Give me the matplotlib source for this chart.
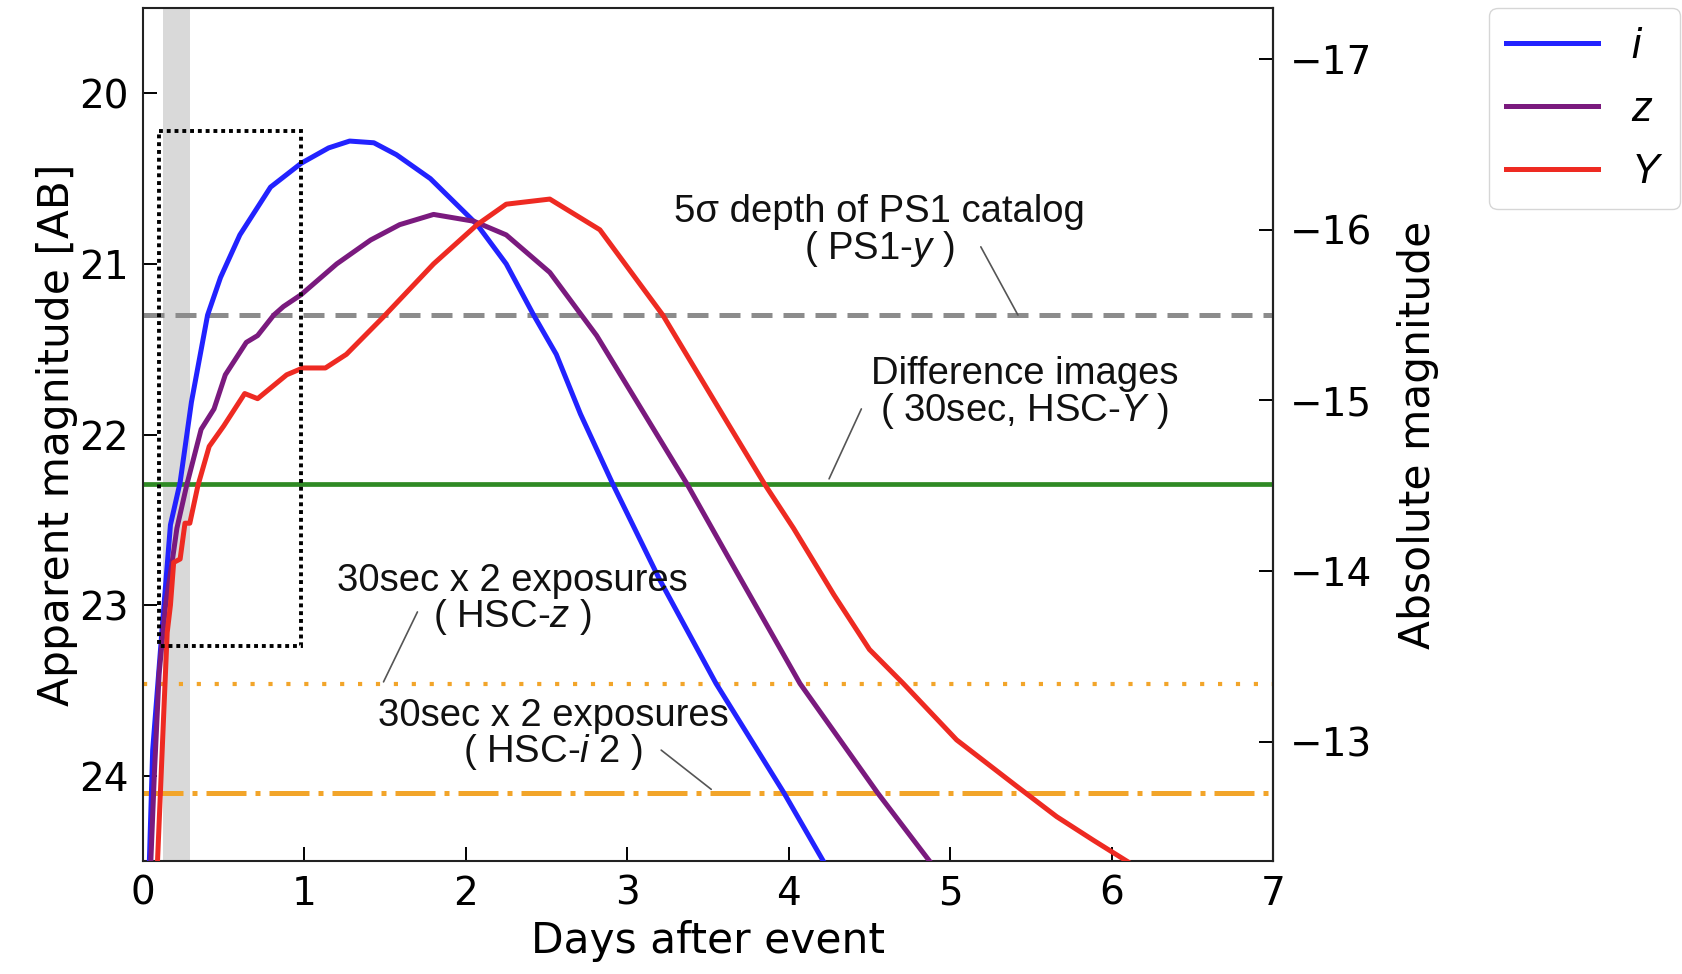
import matplotlib as mpl
import matplotlib.pyplot as plt
from matplotlib.patches import Rectangle

mpl.use("Agg")

# * -------------------------------------------------------------------------------- * #
# * DATA

# light curves, days after event vs apparent magnitude (AB)
i_days = [0.03, 0.06, 0.125, 0.17, 0.23, 0.30, 0.40, 0.48, 0.60, 0.79, 0.98, 1.15,
          1.28, 1.43, 1.57, 1.78, 2.07, 2.25, 2.42, 2.56, 2.71, 2.91, 3.20, 3.55,
          3.97, 4.22, 4.30]
i_mag = [24.8, 23.85, 23.06, 22.53, 22.28, 21.81, 21.30, 21.08, 20.83, 20.55, 20.41,
         20.32, 20.28, 20.29, 20.36, 20.50, 20.77, 21.00, 21.30, 21.53, 21.88, 22.29,
         22.85, 23.46, 24.10, 24.51, 24.64]

z_days = [0.04, 0.07, 0.10, 0.14, 0.18, 0.21, 0.27, 0.36, 0.44, 0.51, 0.64, 0.71,
          0.81, 0.87, 0.98, 1.20, 1.41, 1.59, 1.80, 2.05, 2.25, 2.52, 2.81, 3.37,
          3.62, 4.07, 4.55, 4.88, 4.95]
z_mag = [24.7, 24.0, 23.4, 23.0, 22.75, 22.55, 22.30, 21.97, 21.85, 21.65, 21.46,
         21.42, 21.30, 21.25, 21.18, 21.00, 20.86, 20.77, 20.71, 20.75, 20.83, 21.05,
         21.42, 22.29, 22.71, 23.46, 24.10, 24.51, 24.62]

y_days = [0.07, 0.09, 0.13, 0.15, 0.17, 0.19, 0.23, 0.26, 0.29, 0.34, 0.41, 0.50,
          0.63, 0.71, 0.89, 0.99, 1.13, 1.26, 1.49, 1.80, 2.07, 2.25, 2.52, 2.83,
          3.22, 3.62, 3.85, 4.03, 4.28, 4.50, 4.71, 5.04, 5.41, 5.66, 5.89, 6.11,
          6.20]
y_mag = [25.0, 24.5, 23.6, 23.16, 23.0, 22.75, 22.73, 22.52, 22.52, 22.30, 22.07,
         21.95, 21.76, 21.79, 21.65, 21.61, 21.61, 21.53, 21.31, 21.00, 20.77, 20.65,
         20.62, 20.80, 21.30, 21.93, 22.29, 22.55, 22.94, 23.26, 23.46, 23.79, 24.06,
         24.24, 24.38, 24.51, 24.57]

# detection limits
ps1_depth = 21.3
diff_depth = 22.29
hsc_z_depth = 23.46
hsc_i2_depth = 24.10

distance_modulus = 36.8

# early window
shade_days = (0.125, 0.29)
box_days = (0.10, 0.98)
box_mag = (20.22, 23.24)

# * -------------------------------------------------------------------------------- * #
# * STYLE

plt.rcParams["font.family"] = ["DejaVu Sans"]
plt.rcParams["mathtext.fontset"] = "custom"
plt.rcParams["mathtext.it"] = "Liberation Sans:italic"
plt.rcParams["mathtext.rm"] = "Liberation Sans"

note_font = dict(family="Liberation Sans", fontsize=27.5, ha="center", va="center",
                 linespacing=0.95, color="#111111")
line_props = dict(arrowstyle="-", color="#555555", lw=1.2, shrinkA=0, shrinkB=0)

orange = "#f2a52a"

# * -------------------------------------------------------------------------------- * #
# * PLOT

fig = plt.figure(figsize=(16.82, 9.74), dpi=100)
ax = fig.add_axes([143 / 1682, 1 - 861 / 974, (1273 - 143) / 1682, (861 - 8) / 974])

ax.axvspan(*shade_days, color="#d9d9d9", lw=0, zorder=0)
ax.add_patch(
    Rectangle(
        (box_days[0], box_mag[0]),
        box_days[1] - box_days[0],
        box_mag[1] - box_mag[0],
        fill=False,
        ec="black",
        lw=2.8,
        ls=(0, (1, 1)),
        zorder=5,
    )
)

ax.axhline(ps1_depth, color="#8c8c8c", lw=3.6, ls=(0, (4.2, 2.2)), zorder=1)
ax.axhline(diff_depth, color="#2f8a24", lw=3.4, zorder=1)
ax.axhline(hsc_z_depth, color=orange, lw=3.0, ls=(0, (1, 3.3)), zorder=1)
ax.axhline(hsc_i2_depth, color=orange, lw=3.6, ls=(0, (8, 1.8, 1, 1.8)), zorder=1)

ax.plot(i_days, i_mag, color="#2222ff", lw=3.6, label="$i$", zorder=3)
ax.plot(z_days, z_mag, color="#7a1a7e", lw=3.6, label="$z$", zorder=3)
ax.plot(y_days, y_mag, color="#ee2a22", lw=3.6, label="$Y$", zorder=3)

# Annotations
ax.text(4.56, 20.81, "5σ depth of PS1 catalog\n( PS1-$y$ )", **note_font)
ax.annotate("", xy=(5.42, 21.30), xytext=(5.19, 20.90), arrowprops=line_props)

ax.text(5.46, 21.76, "Difference images\n( 30sec, HSC-$Y$ )", **note_font)
ax.annotate("", xy=(4.25, 22.26), xytext=(4.45, 21.85), arrowprops=line_props)

ax.text(2.29, 22.97, "30sec x 2 exposures\n( HSC-$z$ )", **note_font)
ax.annotate("", xy=(1.49, 23.45), xytext=(1.70, 23.04), arrowprops=line_props)

ax.text(2.54, 23.76, "30sec x 2 exposures\n( HSC-$i$ 2 )", **note_font)
ax.annotate("", xy=(3.52, 24.08), xytext=(3.21, 23.85), arrowprops=line_props)

# Axes
ax.set_xlim(0, 7)
ax.set_ylim(24.5, 19.5)
ax.set_xticks(range(0, 8))
ax.set_yticks([20, 21, 22, 23, 24])
ax.tick_params(direction="in", length=10, width=1.4, labelsize=28, pad=10,
               right=False, top=False)
for spine in ax.spines.values():
    spine.set_linewidth(1.5)
    spine.set_color("#222222")
ax.set_xlabel("Days after event", fontsize=30.5, labelpad=5)
ax.set_ylabel("Apparent magnitude [AB]", fontsize=30.5, labelpad=1)

sec = ax.secondary_yaxis(
    "right",
    functions=(lambda m: m - distance_modulus, lambda m: m + distance_modulus),
)
sec.set_yticks([-17, -16, -15, -14, -13])
sec.tick_params(direction="in", length=10, width=1.4, labelsize=28, pad=12)
sec.spines["right"].set_linewidth(1.5)
sec.set_ylabel("Absolute magnitude", fontsize=30.5, labelpad=18)

fig.legend(
    loc="upper right",
    bbox_to_anchor=(1680 / 1682, 1 - 8 / 974),
    fontsize=30,
    handlelength=2.2,
    borderaxespad=0,
    frameon=True,
)

fig.savefig("out.png", dpi=100)
